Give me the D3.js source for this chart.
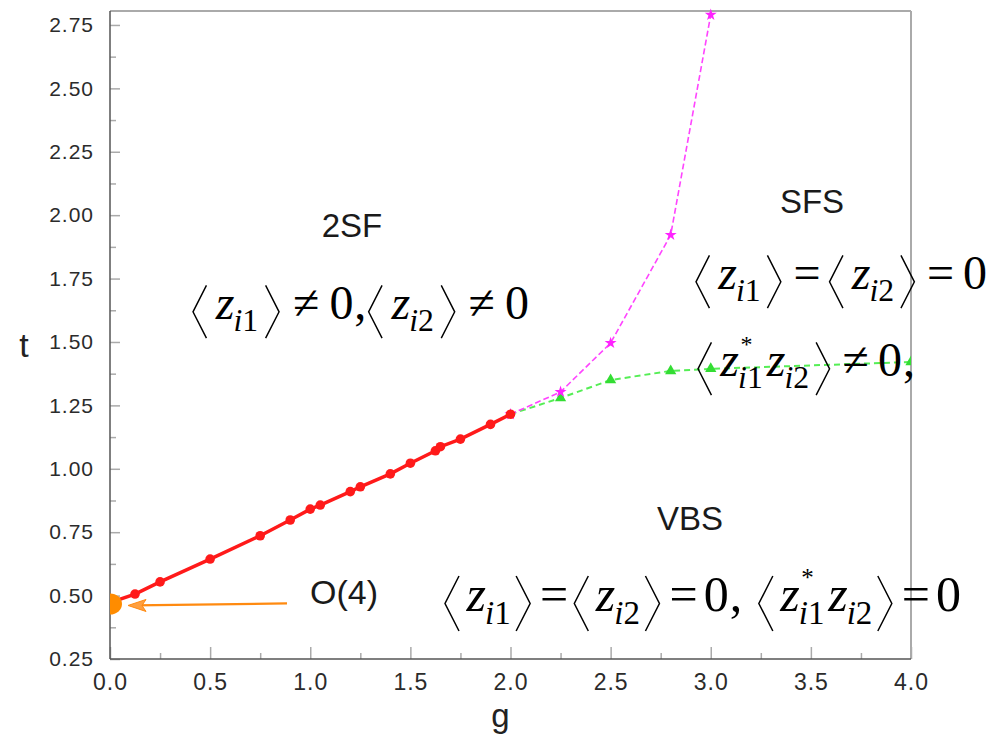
<!DOCTYPE html>
<html>
<head>
<meta charset="utf-8">
<script src="https://cdn.jsdelivr.net/npm/d3@7"></script>
<style>
  body { margin: 0; background: #fff; }
  svg { display: block; }
  .tick text { font-family: "Liberation Sans", Arial, sans-serif; fill: #2b2b2b; }
</style>
</head>
<body>
<svg id="chart" width="992" height="741"></svg>
<script>
// red solid boundary, 2SF -> VBS
const redG = [0.0, 0.125, 0.25, 0.5, 0.75, 0.9, 1.0, 1.05, 1.2, 1.25, 1.4, 1.5, 1.625, 1.65, 1.75, 1.9, 2.0];
const redT = [0.472, 0.506, 0.554, 0.644, 0.736, 0.798, 0.841, 0.857, 0.91, 0.929, 0.98, 1.022, 1.071, 1.087, 1.117, 1.175, 1.215];
// magenta dashed boundary, 2SF -> SFS
const magG = [2.0, 2.25, 2.5, 2.8, 3.0];
const magT = [1.215, 1.303, 1.496, 1.922, 2.79];
// green dashed boundary, SFS -> VBS
const grnG = [2.0, 2.25, 2.5, 2.8, 3.0, 4.0];
const grnT = [1.215, 1.279, 1.35, 1.386, 1.394, 1.421];
// O(4) point
const o4G = [0.0];
const o4T = [0.467];

const xTicks = [0, 0.5, 1, 1.5, 2, 2.5, 3, 3.5, 4];
const xMinor = [0.25, 0.75, 1.25, 1.75, 2.25, 2.75, 3.25, 3.75];
const yTicks = [0.25, 0.5, 0.75, 1, 1.25, 1.5, 1.75, 2, 2.25, 2.5, 2.75];
const yMinor = [0.375, 0.625, 0.875, 1.125, 1.375, 1.625, 1.875, 2.125, 2.375, 2.625];

let svg = d3.select("#chart");

let x = d3.scaleLinear().domain([0, 4]).range([110, 911]);
let y = d3.scaleLinear().domain([0.25, 2.805]).range([659, 11]);

svg.append("clipPath").attr("id", "plotclip")
  .append("rect").attr("x", 110).attr("y", 0).attr("width", 801).attr("height", 659);

// frame: light top/right, darker left/bottom
svg.append("line").attr("x1", x(0)).attr("x2", x(4)).attr("y1", y(2.805)).attr("y2", y(2.805))
  .attr("stroke", "#aaa").attr("stroke-width", 2);
svg.append("line").attr("x1", x(4)).attr("x2", x(4)).attr("y1", y(2.805)).attr("y2", y(0.25))
  .attr("stroke", "#aaa").attr("stroke-width", 2);

// axes
let gx = svg.append("g").attr("transform", "translate(0," + y(0.25) + ")")
  .call(d3.axisBottom(x).tickValues(xTicks).tickSize(-12).tickPadding(15).tickFormat(d3.format(".1f")));
gx.selectAll(".tick text").attr("font-size", 23).attr("letter-spacing", 1);
let gxm = svg.append("g").attr("transform", "translate(0," + y(0.25) + ")")
  .call(d3.axisBottom(x).tickValues(xMinor).tickSize(-6).tickFormat(""));

let gy = svg.append("g").attr("transform", "translate(" + x(0) + ",0)")
  .call(d3.axisLeft(y).tickValues(yTicks).tickSize(-10).tickPadding(16).tickFormat(d3.format(".2f")));
gy.selectAll(".tick text").attr("font-size", 21).attr("letter-spacing", 1);
let gym = svg.append("g").attr("transform", "translate(" + x(0) + ",0)")
  .call(d3.axisLeft(y).tickValues(yMinor).tickSize(-6).tickFormat(""));

[gx, gxm, gy, gym].forEach(g => {
  g.select(".domain").remove();
  g.selectAll(".tick line").attr("stroke", "#aaa").attr("stroke-width", 1.5);
});

svg.append("line").attr("x1", x(0)).attr("x2", x(4)).attr("y1", y(0.25)).attr("y2", y(0.25))
  .attr("stroke", "#555").attr("stroke-width", 1.5);
svg.append("line").attr("x1", x(0)).attr("x2", x(0)).attr("y1", y(2.805)).attr("y2", y(0.25))
  .attr("stroke", "#555").attr("stroke-width", 1.5);

// axis titles
svg.append("text").attr("x", x(1.95)).attr("y", 727).attr("text-anchor", "middle")
  .attr("font-family", "Liberation Sans, Arial, sans-serif").attr("font-size", 33).attr("fill", "#222").text("g");
svg.append("text").attr("x", 24).attr("y", 357).attr("text-anchor", "middle")
  .attr("font-family", "Liberation Sans, Arial, sans-serif").attr("font-size", 34).attr("fill", "#222").text("t");

let plot = svg.append("g").attr("clip-path", "url(#plotclip)");

let line = d3.line().x(d => x(d[0])).y(d => y(d[1]));
let zip = (a, b) => a.map((v, i) => [v, b[i]]);

// green dashed
plot.append("path").datum(zip(grnG, grnT)).attr("d", line)
  .attr("fill", "none").attr("stroke", "#55ee55").attr("stroke-width", 2).attr("stroke-dasharray", "6,4");
plot.selectAll(".grn").data(zip(grnG, grnT).slice(1)).enter().append("path")
  .attr("d", d3.symbol(d3.symbolTriangle, 55))
  .attr("transform", d => "translate(" + x(d[0]) + "," + y(d[1]) + ")")
  .attr("fill", "#33dd33");

// magenta dashed
plot.append("path").datum(zip(magG, magT)).attr("d", line)
  .attr("fill", "none").attr("stroke", "#ff44ff").attr("stroke-width", 1.6).attr("stroke-dasharray", "6,3");
plot.selectAll(".mag").data(zip(magG, magT)).enter().append("path")
  .attr("d", d3.symbol(d3.symbolStar, 45))
  .attr("transform", d => "translate(" + x(d[0]) + "," + y(d[1]) + ")")
  .attr("fill", "#ff22ff");

// red solid
plot.append("path").datum(zip(redG, redT)).attr("d", line)
  .attr("fill", "none").attr("stroke", "#ff1a1a").attr("stroke-width", 3.5);
plot.selectAll(".red").data(zip(redG, redT)).enter().append("circle")
  .attr("cx", d => x(d[0])).attr("cy", d => y(d[1])).attr("r", 4.8)
  .attr("fill", "#ff1a1a");

// O(4) point + arrow
plot.selectAll(".o4").data(zip(o4G, o4T)).enter().append("ellipse")
  .attr("cx", d => x(d[0])).attr("cy", d => y(d[1])).attr("rx", 12).attr("ry", 10.5)
  .attr("fill", "#ff8c00");

let arrowY = y(0.465);
svg.append("line").attr("x1", 287).attr("x2", 135).attr("y1", arrowY - 1).attr("y2", arrowY + 1)
  .attr("stroke", "#ff8a10").attr("stroke-width", 2.2);
svg.append("path").attr("d", d3.line()([[128, arrowY + 1], [146, arrowY - 5], [142, arrowY + 1], [146, arrowY + 7]]) + "Z")
  .attr("fill", "#ffa040").attr("stroke", "#ff8a10").attr("stroke-width", 1);

// labels
let sans = "Liberation Sans, Arial, sans-serif";
let serif = "Liberation Serif, Times New Roman, serif";
function label(txt, cx, base, size) {
  svg.append("text").attr("x", cx).attr("y", base).attr("text-anchor", "middle")
    .attr("font-family", sans).attr("font-size", size).attr("fill", "#1a1a1a").text(txt);
}
label("2SF", 352, 237, 33);
label("SFS", 812, 213, 33);
label("VBS", 690, 530, 33);
svg.append("text").attr("x", 310).attr("y", 604).attr("font-family", sans).attr("font-size", 34)
  .attr("fill", "#1a1a1a").text("O(4)");

// math: tokens "<", ">", {sub, star} for z, " " for a space, or plain strings.
// laid out once to measure, then again with the gaps stretched to reach x1
let isRel = tk => tk === "=" || tk === "≠";
function gapWeight(a, b) {
  if (a === "," ) return 0.2;
  if (b === ",") return 0;
  if (isRel(a) || isRel(b)) return 1.4;
  if (typeof a === "object" && typeof b === "object") return 0.2;
  return 0.7;
}
function formula(x0, x1, base, fs, tokens, unit) {
  unit = unit || 0;
  let g = svg.append("g");
  let cx = x0;
  tokens.forEach((tk, i) => {
    if (i > 0) cx += unit * gapWeight(tokens[i - 1], tk);
    if (tk === "<" || tk === ">") {
      let w = fs * 0.28, top = base - fs * 0.7, bot = base + fs * 0.4, mid = (top + bot) / 2;
      let pts = tk === "<" ? [[cx + w, top], [cx, mid], [cx + w, bot]] : [[cx, top], [cx + w, mid], [cx, bot]];
      g.append("path").attr("d", d3.line()(pts)).attr("fill", "none")
        .attr("stroke", "#000").attr("stroke-width", fs * 0.03);
      cx += w + fs * 0.1;
    } else if (tk === " ") {
      cx += fs * 0.25;
    } else if (typeof tk === "object") {
      let zt = g.append("text").attr("x", cx).attr("y", base).attr("font-family", serif)
        .attr("font-style", "italic").attr("font-size", fs).text("z");
      let zw = zt.node().getComputedTextLength();
      let ss = fs * 0.66;
      let st = g.append("text").attr("x", cx + zw - fs * 0.02).attr("y", base + fs * 0.26)
        .attr("font-family", serif).attr("font-size", ss);
      st.append("tspan").attr("font-style", "italic").text(tk.sub[0]);
      st.append("tspan").text(tk.sub.slice(1));
      if (tk.star) {
        g.append("text").attr("x", cx + zw + fs * 0.03).attr("y", base - fs * 0.5)
          .attr("font-family", serif).attr("font-size", fs * 0.5).text("*");
      }
      cx += zw + st.node().getComputedTextLength() + fs * 0.04;
    } else {
      let t = g.append("text").attr("x", cx).attr("y", base).attr("font-family", serif)
        .attr("font-size", fs).text(tk);
      cx += t.node().getComputedTextLength() + fs * 0.02;
    }
  });
  if (!unit && x1) {
    g.remove();
    let total = d3.sum(tokens.slice(1), (tk, i) => gapWeight(tokens[i], tk));
    return formula(x0, x1, base, fs, tokens, (x1 - cx) / total);
  }
  return cx;
}

formula(193, 530, 319, 48, ["<", {sub: "i1"}, ">", "≠", "0", ",", "<", {sub: "i2"}, ">", "≠", "0"]);
formula(696, 988, 289, 48, ["<", {sub: "i1"}, ">", "=", "<", {sub: "i2"}, ">", "=", "0"]);
formula(698, 916, 376, 48, ["<", {sub: "i1", star: true}, {sub: "i2"}, ">", "≠", "0", ","]);
formula(445, 962, 611, 50, ["<", {sub: "i1"}, ">", "=", "<", {sub: "i2"}, ">", "=", "0", ",", " ", "<", {sub: "i1", star: true}, {sub: "i2"}, ">", "=", "0"]);
</script>
</body>
</html>
